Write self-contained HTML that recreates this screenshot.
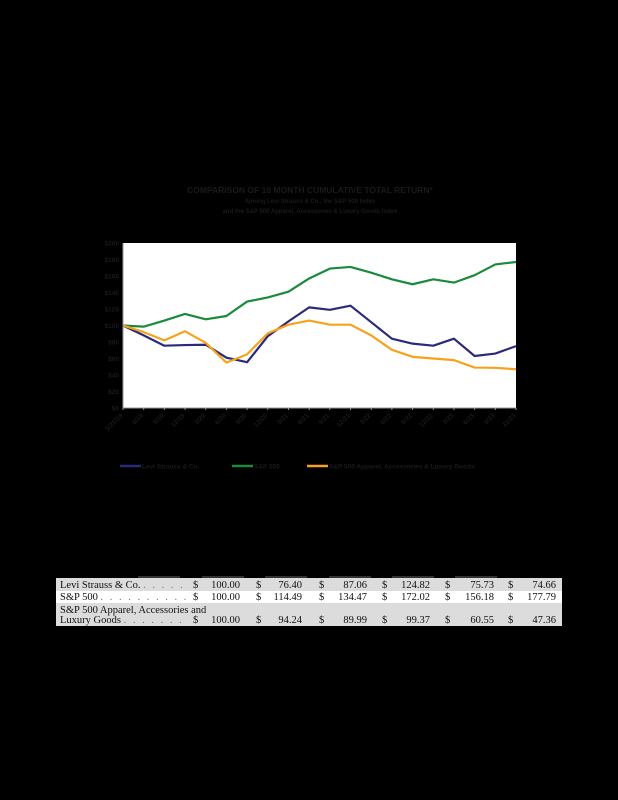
<!DOCTYPE html>
<html><head><meta charset="utf-8"><style>
html,body{margin:0;padding:0;background:#000;width:618px;height:800px;overflow:hidden}
svg{display:block}
.t{font-family:"Liberation Serif",serif;font-size:10.5px;fill:#111}
.d{font-family:"Liberation Serif",serif;font-size:10.5px;fill:#777;letter-spacing:2px}
</style></head><body>
<svg id="c" width="618" height="800" xmlns="http://www.w3.org/2000/svg">
<defs><clipPath id="lblclip"><rect x="56" y="570" width="130" height="60"/></clipPath></defs>
<rect width="618" height="800" fill="#000"/>
<g font-family="Liberation Sans,sans-serif" font-weight="bold" fill="#1a1a1a" text-anchor="middle">
<text x="310" y="193" font-size="8.5">COMPARISON OF 18 MONTH CUMULATIVE TOTAL RETURN*</text>
<text x="310" y="203" font-size="6">Among Levi Strauss &amp; Co., the S&amp;P 500 Index</text>
<text x="310" y="213" font-size="6">and the S&amp;P 500 Apparel, Accessories &amp; Luxury Goods Index</text>
</g>
<rect x="123" y="243" width="393" height="165" fill="#fff"/>
<g id="axes"></g>
<g id="series"></g>
<g id="legend"></g>
<g id="table"></g>
</svg>
<script>
const categories=["3/21/19","6/19","9/19","12/19","3/20","6/20","9/20","12/20","3/21","6/21","9/21","12/21","3/22","6/22","9/22","12/22","3/23","6/23","9/23","11/23"];
const yTicks=[0,20,40,60,80,100,120,140,160,180,200];
const levi=[100,88,75.5,76.3,76.7,61,55.5,87,105,122,119,124,104,84,78,75.5,84,63,66,75];
const sp500=[100,98.6,106,114,107.5,111.5,129,134,141,157,169,171,164,156,150,156,152,161,174,177];
const apparel=[100,92,82,93,79,55,65,90.5,101,106,101,101,88,70.5,62,60,58,49,48.7,47];
const seriesNames=["Levi Strauss & Co.","S&P 500","S&P 500 Apparel, Accessories & Luxury Goods"];
const seriesColors=["#2b2a7a","#1a8a3c","#f7a21b"];
const tableRows=["Levi Strauss & Co.","S&P 500","S&P 500 Apparel, Accessories and|Luxury Goods"];
const tableVals=[["100.00","76.40","87.06","124.82","75.73","74.66"],["100.00","114.49","134.47","172.02","156.18","177.79"],["100.00","94.24","89.99","99.37","60.55","47.36"]];
const NS="http://www.w3.org/2000/svg";
const X0=123,X1=516,Y0=408,Y1=243;
const xs=i=>X0+(X1-X0)*i/(categories.length-1);
const ys=v=>Y0-(Y0-Y1)*v/200;
function mk(tag,attrs,parent,txt){const e=document.createElementNS(NS,tag);for(const k in attrs)e.setAttribute(k,attrs[k]);if(txt!=null)e.textContent=txt;parent.appendChild(e);return e;}
const ax=document.getElementById('axes');
mk('line',{x1:X0,y1:Y1,x2:X0,y2:Y0,stroke:'#999','stroke-width':1},ax);
mk('line',{x1:X0,y1:Y0,x2:X1,y2:Y0,stroke:'#999','stroke-width':1},ax);
yTicks.forEach(v=>{
 const t=mk('text',{x:X0-4,y:ys(v)+2.5,'font-family':'Liberation Sans,sans-serif','font-size':6.5,'font-weight':'bold',fill:'#1a1a1a','text-anchor':'end'},ax,'$'+v);
 
 
});
categories.forEach((c,i)=>{
 const x=xs(i);
 mk('line',{x1:x,y1:Y0,x2:x,y2:Y0+2,stroke:'#999'},ax);
 const t=mk('text',{x:x,y:Y0+8,'font-family':'Liberation Sans,sans-serif','font-size':6.5,'font-weight':'bold',fill:'#1a1a1a','text-anchor':'end',transform:`rotate(-45 ${x} ${Y0+8})`},ax,c);
 
 
});
const sg=document.getElementById('series');
[levi,sp500,apparel].forEach((d,k)=>{
 const p=mk('polyline',{points:d.map((v,i)=>xs(i)+','+ys(v)).join(' '),fill:'none',stroke:seriesColors[k],'stroke-width':2.2,'stroke-linejoin':'round'},sg);
 
 
});
const lg=document.getElementById('legend');
const lx=[120,232,307];
seriesNames.forEach((n,k)=>{
 const g=mk('g',{},lg);
 
 
 mk('line',{x1:lx[k],y1:466,x2:lx[k]+21,y2:466,stroke:seriesColors[k],'stroke-width':2.5},g);
 mk('text',{x:lx[k]+22,y:468.5,'font-family':'Liberation Sans,sans-serif','font-size':6.5,'font-weight':'bold',fill:'#1a1a1a'},g,n);
});
const tb=document.getElementById('table');
const rowY=[[578,591],[591,603],[603,626]];
const rowFill=['#dcdcdc','#fff','#dcdcdc'];
const dollarX=[193,256,319,382,445,508],valX=[240,302,367,430,494,556];
[120,184,247,311,374,437].forEach((x,i)=>mk('line',{x1:x+18,y1:577,x2:x+60,y2:577,stroke:'#666','stroke-width':1},tb));
const dots='. . . . . . . . . . . . . . . . . . . . . . . . .';
tableRows.forEach((r,k)=>{
 const g=mk('g',{},tb);
 
 
 mk('rect',{x:56,y:rowY[k][0],width:506,height:rowY[k][1]-rowY[k][0],fill:rowFill[k]},g);
 const base=rowY[k][1]-3;
 const parts=r.split('|');
 const last=parts[parts.length-1];
 if(parts.length>1)mk('text',{x:60,y:base-10,class:'t'},g,parts[0]);
 const lt=mk('text',{x:60,y:base,class:'t','clip-path':'url(#lblclip)'},g);
 mk('tspan',{},lt,last+' ');
 mk('tspan',{class:'d'},lt,dots);
 tableVals[k].forEach((v,j)=>{
  mk('text',{x:dollarX[j],y:base,class:'t'},g,'$');
  mk('text',{x:valX[j],y:base,class:'t','text-anchor':'end'},g,v);
 });
});
</script>
</body></html>
